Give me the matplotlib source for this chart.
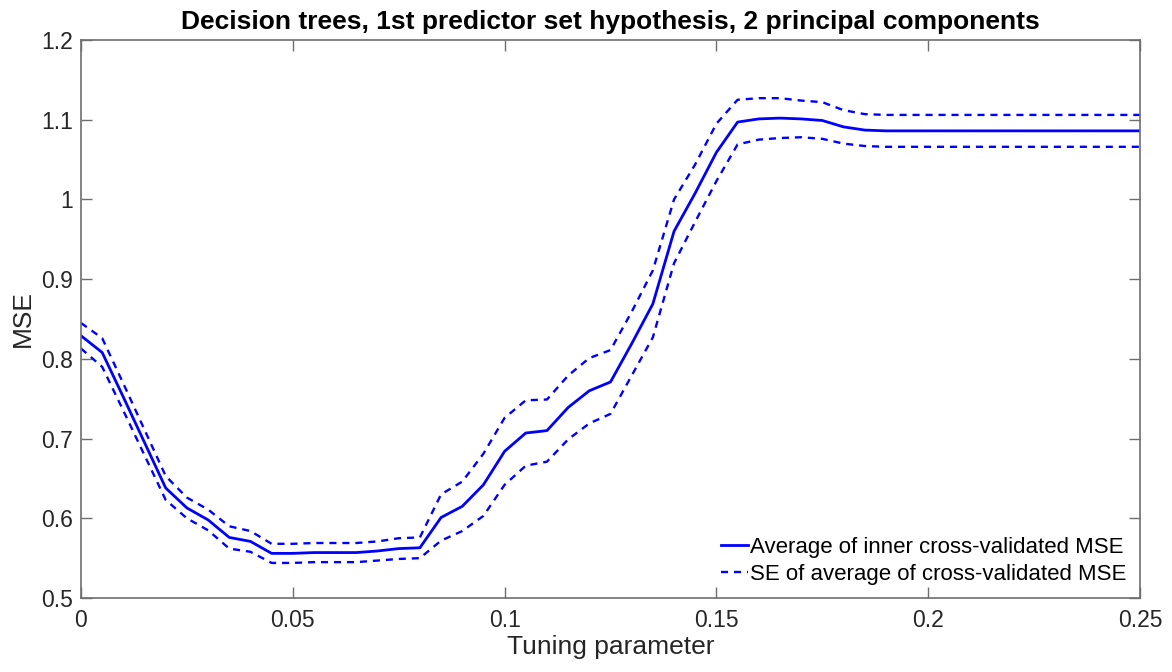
import numpy as np
import matplotlib.pyplot as plt

#------------------- DATA ------------------------------------------
tuning = [0.000, 0.005, 0.010, 0.015, 0.020, 0.025, 0.030, 0.035, 0.040, 0.045,
          0.050, 0.055, 0.060, 0.065, 0.070, 0.075, 0.080, 0.085, 0.090, 0.095,
          0.100, 0.105, 0.110, 0.115, 0.120, 0.125, 0.130, 0.135, 0.140, 0.145,
          0.150, 0.155, 0.160, 0.165, 0.170, 0.175, 0.180, 0.185, 0.190, 0.195,
          0.200, 0.205, 0.210, 0.215, 0.220, 0.225, 0.230, 0.235, 0.240, 0.245,
          0.250]
mse_mean = [0.829, 0.808, 0.752, 0.695, 0.638, 0.613, 0.598, 0.576, 0.571, 0.556,
            0.556, 0.557, 0.557, 0.557, 0.559, 0.562, 0.563, 0.601, 0.615, 0.642,
            0.684, 0.707, 0.710, 0.739, 0.760, 0.771, 0.819, 0.869, 0.960, 1.008,
            1.059, 1.097, 1.101, 1.102, 1.101, 1.099, 1.091, 1.087, 1.086, 1.086,
            1.086, 1.086, 1.086, 1.086, 1.086, 1.086, 1.086, 1.086, 1.086, 1.086,
            1.086]
mse_se = [0.016, 0.018, 0.017, 0.016, 0.015, 0.013, 0.013, 0.014, 0.013, 0.012,
          0.012, 0.012, 0.012, 0.012, 0.012, 0.013, 0.013, 0.029, 0.031, 0.039,
          0.042, 0.041, 0.039, 0.040, 0.041, 0.040, 0.040, 0.042, 0.040, 0.036,
          0.036, 0.028, 0.026, 0.025, 0.023, 0.023, 0.021, 0.020, 0.020, 0.020,
          0.020, 0.020, 0.020, 0.020, 0.020, 0.020, 0.020, 0.020, 0.020, 0.020,
          0.020]

x = np.array(tuning)
m = np.array(mse_mean)
se = np.array(mse_se)

#------------------- PLOT ------------------------------------------
plt.rcParams['font.family'] = ['Liberation Sans', 'DejaVu Sans']

fig = plt.figure(figsize=(11.72, 6.72), dpi=100)
ax = fig.add_axes([0.0691, 0.1101, 0.9036, 0.8304])

ax.plot(x, m, color='#0000ff', lw=2, label='Average of inner cross-validated MSE')
ax.plot(x, m + se, color='#0000ff', lw=1.7, ls=(0, (3, 2.5)),
        label='SE of average of cross-validated MSE')
ax.plot(x, m - se, color='#0000ff', lw=1.7, ls=(0, (3, 2.5)))

ax.set_xlim(0, 0.25)
ax.set_ylim(0.5, 1.2)
ax.set_xticks([0, 0.05, 0.1, 0.15, 0.2, 0.25])
ax.set_xticklabels(['0', '0.05', '0.1', '0.15', '0.2', '0.25'])
ax.set_yticks([0.5, 0.6, 0.7, 0.8, 0.9, 1.0, 1.1, 1.2])
ax.set_yticklabels(['0.5', '0.6', '0.7', '0.8', '0.9', '1', '1.1', '1.2'])

for s in ax.spines.values():
    s.set_color('#6e6e6e')
    s.set_linewidth(1.2)
ax.tick_params(direction='in', length=8, width=1, colors='#6e6e6e',
               labelcolor='#262626', labelsize=16.5, top=True, right=True)
ax.tick_params(axis='x', pad=8)
ax.tick_params(axis='y', pad=6)

ax.set_xlabel('Tuning parameter', fontsize=19, color='#262626', labelpad=2)
ax.set_ylabel('MSE', fontsize=19, color='#262626', labelpad=4)
ax.set_title('Decision trees, 1st predictor set hypothesis, 2 principal components',
             fontsize=19, fontweight='bold', pad=8)

ax.legend(loc='lower right', frameon=False, fontsize=16, handlelength=1.2,
          handletextpad=0.1, borderaxespad=0.2, labelspacing=0.25)

fig.savefig('out.png', dpi=100)
